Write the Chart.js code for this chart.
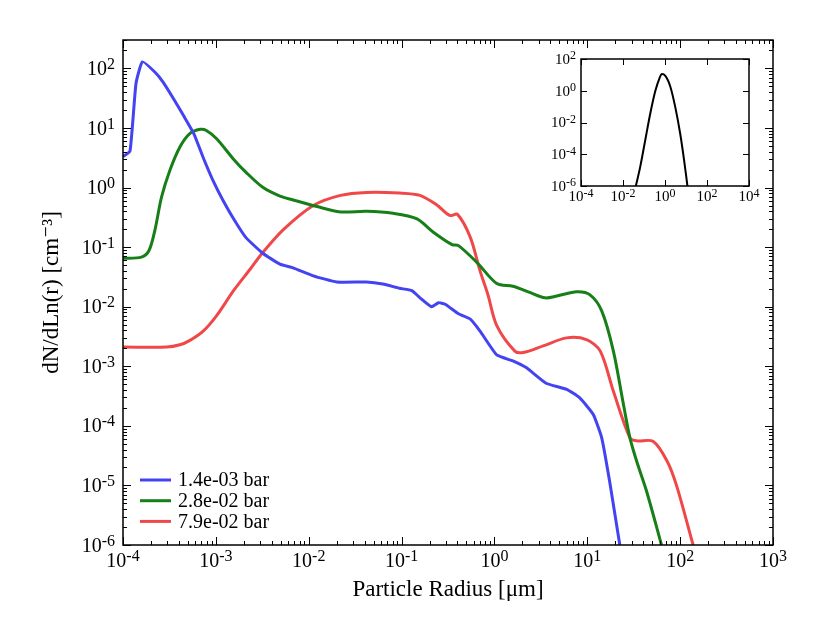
<!DOCTYPE html>
<html lang="en">
<head>
    <meta charset="UTF-8">
    <title>Particle size distribution</title>
    <script src="https://cdn.jsdelivr.net/npm/chart.js@4.4.1/dist/chart.umd.min.js"></script>
    <style>
        body { margin: 0; background: #fff; }
        #wrap { position: relative; width: 830px; height: 642px; }
        #mainChart { position: absolute; left: 0; top: 0; }
        #insetChart { position: absolute; left: 520px; top: 30px; }
    </style>
</head>
<body>
<div id="wrap">
    <canvas id="mainChart" width="830" height="642"></canvas>
    <canvas id="insetChart" width="260" height="190"></canvas>
</div>

<script>
    // series (radius in um, dN/dLn(r) in cm^-3)
    const blueX = [1.0e-4, 1.19e-4, 1.38e-4, 1.62e-4, 2.2e-4, 2.7e-4, 3.5e-4, 4.5e-4, 5.8e-4, 7.3e-4, 9.3e-4,
        1.2e-3, 1.55e-3, 2.1e-3, 3.2e-3, 4.9e-3, 6.8e-3, 1.12e-2, 2.0e-2, 4.2e-2, 6.3e-2, 9.5e-2, 0.129, 0.158,
        0.21, 0.25, 0.295, 0.41, 0.55, 0.70, 1.06, 1.58, 2.2, 3.6, 6.0, 8.3, 11.6, 14.3, 17.4, 22.4];
    const blueY = [3.3, 4.1, 56, 129, 87, 59, 31, 16, 8.0, 3.2, 1.32,
        0.60, 0.30, 0.146, 0.079, 0.052, 0.045, 0.033, 0.026, 0.026, 0.024, 0.0204, 0.0186, 0.0141,
        0.010, 0.0117, 0.011, 0.0076, 0.0062, 0.0039, 0.00155, 0.00123, 9.5e-4, 5.2e-4, 4.1e-4, 2.95e-4, 1.55e-4, 6.3e-5, 1.17e-5, 1.0e-6];

    const greenX = [1.0e-4, 1.58e-4, 1.9e-4, 2.2e-4, 2.6e-4, 3.2e-4, 4.1e-4, 5.2e-4, 6.8e-4, 7.9e-4, 1.02e-3,
        1.55e-3, 2.1e-3, 3.2e-3, 4.9e-3, 6.8e-3, 1.23e-2, 2.2e-2, 4.2e-2, 8.1e-2, 0.145, 0.22, 0.35, 0.41, 0.65,
        1.06, 1.58, 2.4, 3.5, 4.7, 7.7, 10.7, 14.3, 19.1, 24.5, 28.8, 33.9, 43.6, 63];
    const greenY = [0.065, 0.068, 0.087, 0.19, 0.69, 1.95, 4.8, 8.0, 9.5, 9.1, 6.6,
        3.0, 1.82, 1.01, 0.72, 0.62, 0.48, 0.39, 0.40, 0.37, 0.30, 0.178, 0.110, 0.106, 0.055,
        0.0245, 0.022, 0.0174, 0.0141, 0.0151, 0.0178, 0.0158, 0.0085, 0.0018, 2.3e-4, 6.3e-5, 2.6e-5, 7.9e-6, 1.0e-6];

    const redX = [1.0e-4, 2.95e-4, 4.1e-4, 5.2e-4, 7.3e-4, 1.02e-3, 1.55e-3, 2.35e-3, 3.2e-3, 5.4e-3, 1.12e-2,
        2.2e-2, 4.2e-2, 9.5e-2, 0.158, 0.24, 0.33, 0.40, 0.55, 0.70, 0.85, 1.06, 1.66, 2.04, 3.35, 6.0, 9.8,
        13.8, 19.1, 28.8, 33.9, 51, 72, 91, 138];
    const redY = [0.0021, 0.0021, 0.0023, 0.0027, 0.0039, 0.0071, 0.0186, 0.043, 0.081, 0.20, 0.50,
        0.74, 0.83, 0.81, 0.74, 0.51, 0.34, 0.355, 0.146, 0.040, 0.016, 0.0048, 0.0018, 0.0017, 0.0022, 0.0030, 0.0028,
        0.0018, 3.8e-4, 6.3e-5, 5.6e-5, 5.5e-5, 2.6e-5, 1.02e-5, 1.0e-6];

    const seriesLabels = ['1.4e-03 bar', '2.8e-02 bar', '7.9e-02 bar'];
    const seriesColors = ['#4343f2', '#177f17', '#f04848'];

    // inset: a single log-normal shaped curve
    const insetX = [0.041, 0.066, 0.115, 0.20, 0.34, 0.55, 0.71, 1.02, 1.78, 3.05, 5.25, 8.1, 11.7];
    const insetY = [1e-6, 1.6e-5, 7.9e-4, 0.038, 0.89, 6.3, 11.2, 8.9, 1.86, 0.1, 2.1e-3, 4.3e-5, 1e-6];

    // tick positions
    const mainXTicks = [1e-4, 1e-3, 1e-2, 1e-1, 1, 1e1, 1e2, 1e3];
    const mainYTicks = [1e-6, 1e-5, 1e-4, 1e-3, 1e-2, 1e-1, 1, 1e1, 1e2];
    const insetXTicks = [1e-4, 1e-2, 1, 1e2, 1e4];
    const insetYTicks = [1e-6, 1e-4, 1e-2, 1, 1e2];

    const FONT = '"Liberation Serif", "DejaVu Serif", serif';
    Chart.defaults.font.family = FONT;
    Chart.defaults.color = '#000';

    const pts = (xs, ys) => xs.map((x, i) => ({x: x, y: ys[i]}));

    // ticks pointing inward on all four sides + frame
    const inTicks = {
        id: 'inTicks',
        afterDatasetsDraw(chart, args, opts) {
            const {ctx, chartArea: a, scales: {x, y}} = chart;
            const marks = (major) => {
                let out = major.map(v => ({v: v, len: opts.majorLen}));
                if (opts.minor) {
                    major.forEach(v => {
                        for (let m = 2; m <= 9; m++) out.push({v: v * m, len: opts.minorLen});
                    });
                }
                return out;
            };
            ctx.save();
            ctx.strokeStyle = '#000';
            ctx.lineWidth = 1;
            ctx.beginPath();
            for (const t of marks(opts.xMajor)) {
                if (t.v < x.min || t.v > x.max) continue;
                const px = Math.round(x.getPixelForValue(t.v)) + 0.5;
                ctx.moveTo(px, a.bottom); ctx.lineTo(px, a.bottom - t.len);
                ctx.moveTo(px, a.top); ctx.lineTo(px, a.top + t.len);
            }
            for (const t of marks(opts.yMajor)) {
                if (t.v < y.min || t.v > y.max) continue;
                const py = Math.round(y.getPixelForValue(t.v)) + 0.5;
                ctx.moveTo(a.left, py); ctx.lineTo(a.left + t.len, py);
                ctx.moveTo(a.right, py); ctx.lineTo(a.right - t.len, py);
            }
            ctx.stroke();
            ctx.lineWidth = 1.5;
            ctx.strokeRect(a.left, a.top, a.right - a.left, a.bottom - a.top);
            ctx.restore();
        }
    };

    // "10" with a raised exponent, like the mathtext labels of the original
    const powerLabels = {
        id: 'powerLabels',
        afterDraw(chart, args, opts) {
            const {ctx, chartArea: a, scales: {x, y}} = chart;
            const f = opts.size, fs = Math.round(f * 0.78);
            const put = (v, cx, baseY, align) => {
                const e = String(Math.round(Math.log10(v)));
                ctx.font = f + 'px ' + FONT;
                const w1 = ctx.measureText('10').width;
                ctx.font = fs + 'px ' + FONT;
                const w2 = ctx.measureText(e).width;
                const x0 = align === 'right' ? cx - w1 - w2 : cx - (w1 + w2) / 2;
                ctx.font = f + 'px ' + FONT;
                ctx.fillText('10', x0, baseY);
                ctx.font = fs + 'px ' + FONT;
                ctx.fillText(e, x0 + w1, baseY - f * 0.3);
            };
            ctx.save();
            ctx.fillStyle = '#000';
            ctx.textAlign = 'left';
            ctx.textBaseline = 'alphabetic';
            opts.xTicks.forEach(v => put(v, x.getPixelForValue(v), a.bottom + opts.xPad + f * 0.68, 'center'));
            opts.yTicks.forEach(v => put(v, a.left - opts.yPad, y.getPixelForValue(v) + f * 0.33, 'right'));
            ctx.restore();
        }
    };

    // legend in the lower left corner of the plot
    const cornerLegend = {
        id: 'cornerLegend',
        afterDraw(chart) {
            const {ctx, chartArea: a} = chart;
            ctx.save();
            ctx.font = '20px ' + FONT;
            ctx.textBaseline = 'middle';
            ctx.fillStyle = '#000';
            chart.data.datasets.forEach((ds, i) => {
                const yy = a.bottom - 65 + i * 20.7;
                ctx.strokeStyle = ds.borderColor;
                ctx.lineWidth = 3;
                ctx.beginPath();
                ctx.moveTo(a.left + 17, yy); ctx.lineTo(a.left + 48, yy);
                ctx.stroke();
                ctx.fillText(ds.label, a.left + 55, yy + 1);
            });
            ctx.restore();
        }
    };

    const whiteArea = {
        id: 'whiteArea',
        beforeDraw(chart) {
            const {ctx, chartArea: a} = chart;
            ctx.save();
            ctx.fillStyle = '#fff';
            ctx.fillRect(a.left, a.top, a.right - a.left, a.bottom - a.top);
            ctx.restore();
        }
    };

    const lineSet = (i, xs, ys, tension) => ({
        label: seriesLabels[i],
        data: pts(xs, ys),
        borderColor: seriesColors[i],
        borderWidth: 3,
        pointRadius: 0,
        tension: tension
    });

    const logAxis = (min, max, ticks, fitKey, fitVal, title) => ({
        type: 'logarithmic',
        min: min, max: max,
        grid: {display: false, drawTicks: false},
        border: {display: false},
        afterBuildTicks: s => { s.ticks = ticks.map(v => ({value: v})); },
        afterFit: s => { s[fitKey] = fitVal; },
        ticks: {display: false},
        title: title || {display: false}
    });

    new Chart(document.getElementById('mainChart'), {
        type: 'line',
        data: {
            datasets: [
                lineSet(0, blueX, blueY, 0.15),
                lineSet(1, greenX, greenY, 0.3),
                lineSet(2, redX, redY, 0.3)
            ]
        },
        options: {
            responsive: false,
            animation: false,
            layout: {padding: {left: 0, right: 57, top: 40, bottom: 0}},
            plugins: {
                legend: {display: false},
                tooltip: {enabled: false},
                inTicks: {xMajor: mainXTicks, yMajor: mainYTicks, minor: true, majorLen: 8, minorLen: 4},
                powerLabels: {xTicks: mainXTicks, yTicks: mainYTicks, size: 20, xPad: 8, yPad: 8}
            },
            scales: {
                x: logAxis(1e-4, 1e3, mainXTicks, 'height', 97,
                    {display: true, text: 'Particle Radius [μm]', font: {size: 23}, padding: {top: 0, bottom: 38}}),
                y: logAxis(1e-6, 300, mainYTicks, 'width', 123,
                    {display: true, text: 'dN/dLn(r) [cm⁻³]', font: {size: 23}, padding: {top: 38, bottom: 0}})
            }
        },
        plugins: [inTicks, powerLabels, cornerLegend]
    });

    new Chart(document.getElementById('insetChart'), {
        type: 'line',
        data: {
            datasets: [{
                data: pts(insetX, insetY),
                borderColor: '#000',
                borderWidth: 2,
                pointRadius: 0,
                cubicInterpolationMode: 'monotone'
            }]
        },
        options: {
            responsive: false,
            animation: false,
            layout: {padding: {left: 0, right: 31, top: 29, bottom: 0}},
            plugins: {
                legend: {display: false},
                tooltip: {enabled: false},
                inTicks: {xMajor: insetXTicks, yMajor: insetYTicks, minor: false, majorLen: 6, minorLen: 3},
                powerLabels: {xTicks: insetXTicks, yTicks: insetYTicks, size: 15, xPad: 5, yPad: 5}
            },
            scales: {
                x: logAxis(1e-4, 1e4, insetXTicks, 'height', 34),
                y: logAxis(1e-6, 1e2, insetYTicks, 'width', 61)
            }
        },
        plugins: [whiteArea, inTicks, powerLabels]
    });
</script>
</body>
</html>
